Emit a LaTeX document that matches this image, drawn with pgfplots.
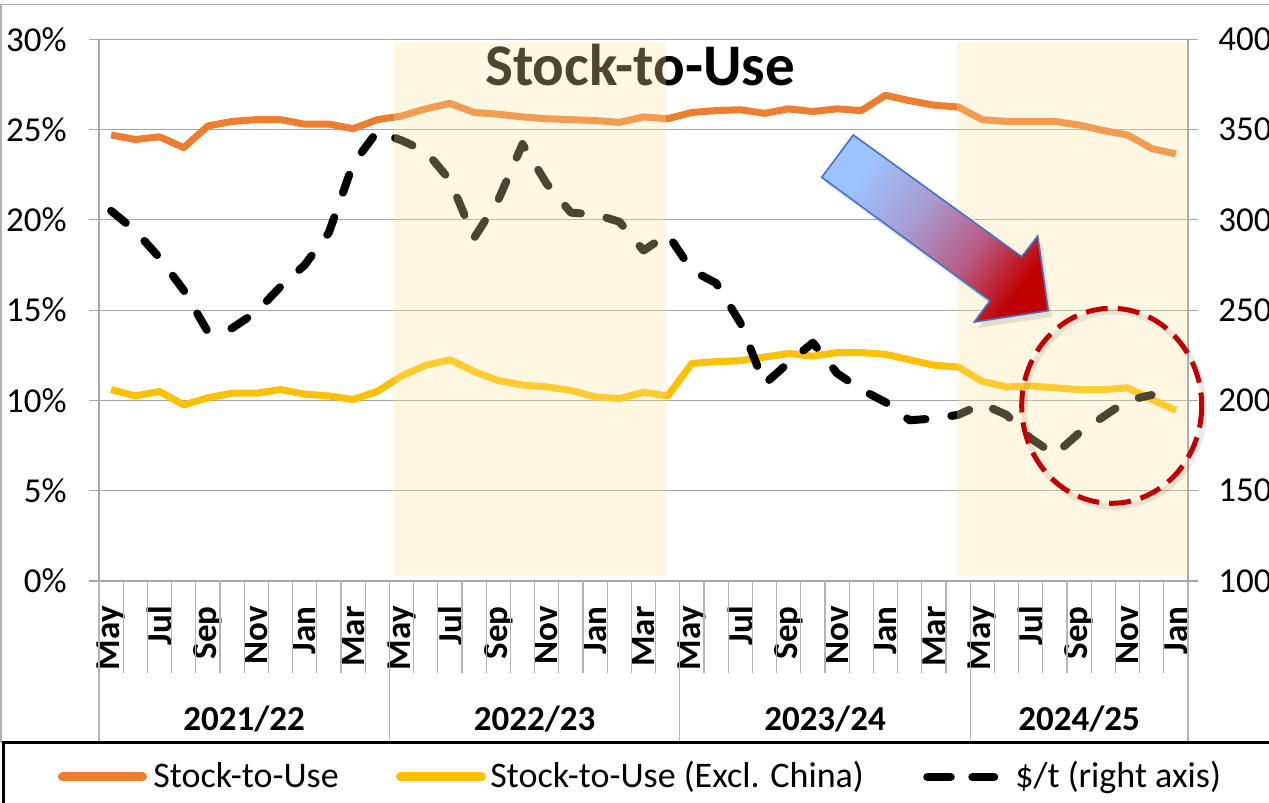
\documentclass[border=0pt]{standalone}
\usepackage{pgfplots}
\pgfplotsset{compat=1.18}
\usepackage{pgfplotstable}
\usepackage{fontspec}
\setmainfont{Carlito}
\definecolor{orangeS}{RGB}{237,125,49}
\definecolor{yellowS}{RGB}{255,192,0}
\definecolor{gridc}{RGB}{166,166,166}
\definecolor{linec}{RGB}{180,180,180}
\definecolor{shadec}{RGB}{255,230,160}
\definecolor{darkred}{RGB}{192,0,0}
\definecolor{lblue}{RGB}{157,195,255}
\definecolor{midc}{RGB}{168,155,208}
\definecolor{pinkc}{RGB}{185,90,130}
\definecolor{outl}{RGB}{68,114,196}
\newcommand{\lblfont}{\fontsize{17.5}{20}\selectfont}
\pgfdeclarehorizontalshading{arrowsh}{100bp}{color(0bp)=(lblue); color(28bp)=(lblue); color(45bp)=(midc); color(61bp)=(pinkc); color(75bp)=(darkred); color(100bp)=(darkred)}

\pgfplotstableread{
i sut sux price
0 24.70 10.60 305
1 24.45 10.25 294
2 24.60 10.50 279
3 24.00 9.75 261
4 25.20 10.15 238
5 25.45 10.40 240
6 25.55 10.40 249
7 25.55 10.60 263
8 25.30 10.35 275
9 25.30 10.25 293
10 25.05 10.05 331
11 25.55 10.50 349
12 25.75 11.35 344
13 26.15 11.95 338
14 26.45 12.25 322
15 25.95 11.60 290
16 25.85 11.10 311
17 25.70 10.85 342
18 25.60 10.75 320
19 25.55 10.55 304
20 25.50 10.20 303
21 25.40 10.10 299
22 25.70 10.45 283
23 25.60 10.25 292
24 25.95 12.05 272
25 26.05 12.15 265
26 26.10 12.20 243
27 25.90 12.40 209
28 26.15 12.60 221
29 26.00 12.45 232
30 26.15 12.65 215
31 26.05 12.65 206
32 26.90 12.55 199
33 26.60 12.25 189
34 26.35 11.95 190
35 26.25 11.85 192
36 25.55 11.05 198
37 25.45 10.75 192
38 25.45 10.80 179
39 25.45 10.70 170
40 25.25 10.60 182
41 24.95 10.60 191
42 24.70 10.70 200
43 23.95 10.05 203
44 23.65 9.45 nan
}\data

\begin{document}
\begin{tikzpicture}
\path[use as bounding box] (0,0) rectangle (634.5pt,401.5pt);
\clip (0,0) rectangle (634.5pt,401.5pt);
\fill[white] (0,0) rectangle (634.5pt,401.5pt);

\begin{axis}[
  at={(49.5pt,111pt)}, anchor=south west, scale only axis,
  width=544.5pt, height=270.85pt,
  xmin=-0.5, xmax=44.5, ymin=0, ymax=30,
  axis x line*=bottom, axis y line*=left,
  axis line style={gridc, line width=0.6pt},
  ytick={0,5,...,30}, yticklabels={0\%,5\%,10\%,15\%,20\%,25\%,30\%},
  ymajorgrids, grid style={gridc, line width=0.6pt},
  tick align=outside, major tick length=5pt,
  ytick style={gridc, line width=0.6pt},
  xtick={0,2,...,44},
  xticklabels={May,Jul,Sep,Nov,Jan,Mar,May,Jul,Sep,Nov,Jan,Mar,May,Jul,Sep,Nov,Jan,Mar,May,Jul,Sep,Nov,Jan},
  xtick style={draw=none},
  xticklabel style={rotate=90, anchor=east, inner sep=0pt, font=\lblfont\bfseries},
  yticklabel style={inner sep=0pt, font=\lblfont},
  yticklabel shift=11pt, xticklabel shift=7.5pt,
  clip=false,
]
\addplot[orangeS, line width=3.5pt, line join=round] table[x=i,y=sut]{\data};
\addplot[yellowS, line width=3.5pt, line join=round] table[x=i,y=sux]{\data};
\pgfplotsinvokeforeach{-0.5,0.5,...,44.5}{\draw[linec, line width=0.6pt] (axis cs:#1,0) -- ++(0pt,-46pt);}
\pgfplotsinvokeforeach{-0.5,11.5,23.5,35.5,44.5}{\draw[linec, line width=0.6pt] (axis cs:#1,0) -- ++(0pt,-80.5pt);}
\node[font=\lblfont\bfseries, anchor=base, yshift=-74.5pt] at (axis cs:5.5,0) {2021/22};
\node[font=\lblfont\bfseries, anchor=base, yshift=-74.5pt] at (axis cs:17.5,0) {2022/23};
\node[font=\lblfont\bfseries, anchor=base, yshift=-74.5pt] at (axis cs:29.5,0) {2023/24};
\node[font=\lblfont\bfseries, anchor=base, yshift=-74.5pt] at (axis cs:40,0) {2024/25};
\end{axis}

\begin{axis}[
  at={(49.5pt,111pt)}, anchor=south west, scale only axis,
  width=544.5pt, height=270.85pt,
  xmin=-0.5, xmax=44.5, ymin=100, ymax=400,
  axis x line=none, axis y line*=right,
  axis line style={gridc, line width=0.6pt},
  ytick={100,150,...,400}, yticklabels={100,150,200,250,300,350,400},
  tick align=outside, major tick length=5pt,
  ytick style={gridc, line width=0.6pt},
  yticklabel style={inner sep=0pt, font=\lblfont},
  yticklabel shift=10pt,
  clip=false,
]
\addplot[black, line width=4pt, dash pattern=on 9.5pt off 13pt, line cap=round, line join=round] table[x=i,y=price]{\data};
\node[font=\fontsize{29.5}{32}\selectfont\bfseries, anchor=base] at (axis cs:21.86,374.5) {Stock-to-Use};
\addplot[draw=none, fill=shadec, fill opacity=0.3] coordinates {(11.69,102.8) (22.94,102.8) (22.94,397.8) (11.69,397.8)} -- cycle;
\addplot[draw=none, fill=shadec, fill opacity=0.3] coordinates {(34.95,102.8) (44.5,102.8) (44.5,397.8) (34.95,397.8)} -- cycle;
\end{axis}

\begin{scope}[x=0.5pt, y=-0.5pt, shift={(0pt,401.5pt)}]
  % outer chart border
  \draw[gray!60, line width=0.7pt] (1,743) -- (1,4.7) -- (1300,4.7);
  % arrow shadow
  \begin{scope}[shift={(4,6)}]
    \fill[black, opacity=0.10] (821.7,177.3) -- (853.3,135) -- (1021.7,256.7) -- (1037.7,236) -- (1048.3,310.7) -- (974.3,322) -- (990,300.7) -- cycle;
  \end{scope}
  \shade[shading=arrowsh, shading angle=-36] (821.7,177.3) -- (853.3,135) -- (1021.7,256.7) -- (1037.7,236) -- (1048.3,310.7) -- (974.3,322) -- (990,300.7) -- cycle;
  \draw[outl, line width=0.8pt] (821.7,177.3) -- (853.3,135) -- (1021.7,256.7) -- (1037.7,236) -- (1048.3,310.7) -- (974.3,322) -- (990,300.7) -- cycle;
  % circle
  \draw[black, opacity=0.08, line width=3pt] (1114.2,409.3) ellipse [x radius=90, y radius=97.5];
  \draw[darkred, line width=2.5pt, dash pattern=on 11pt off 5pt] (1111.7,405.8) ellipse [x radius=90, y radius=97.5];
  % legend
  \fill[white] (3,743) rectangle (1300,820);
  \draw[black, line width=1.5pt] (3,830) -- (3,743) -- (1300,743);
  \draw[orangeS, line width=4.5pt, line cap=round] (62.5,777) -- (142.5,777);
  \node[anchor=base west, inner sep=0pt, font=\fontsize{18}{20}\selectfont] at (153,788) {Stock-to-Use};
  \draw[yellowS, line width=4.5pt, line cap=round] (400.5,777) -- (481.5,777);
  \node[anchor=base west, inner sep=0pt, font=\fontsize{18}{20}\selectfont] at (490,788) {Stock-to-Use (Excl. China)};
  \draw[black, line width=4.25pt, line cap=round] (927.5,777) -- (950.5,777);
  \draw[black, line width=4.25pt, line cap=round] (972.5,777) -- (994,777);
  \node[anchor=base west, inner sep=0pt, font=\fontsize{18}{20}\selectfont] at (1015,788) {\$/t (right axis)};
\end{scope}
\end{tikzpicture}
\end{document}
